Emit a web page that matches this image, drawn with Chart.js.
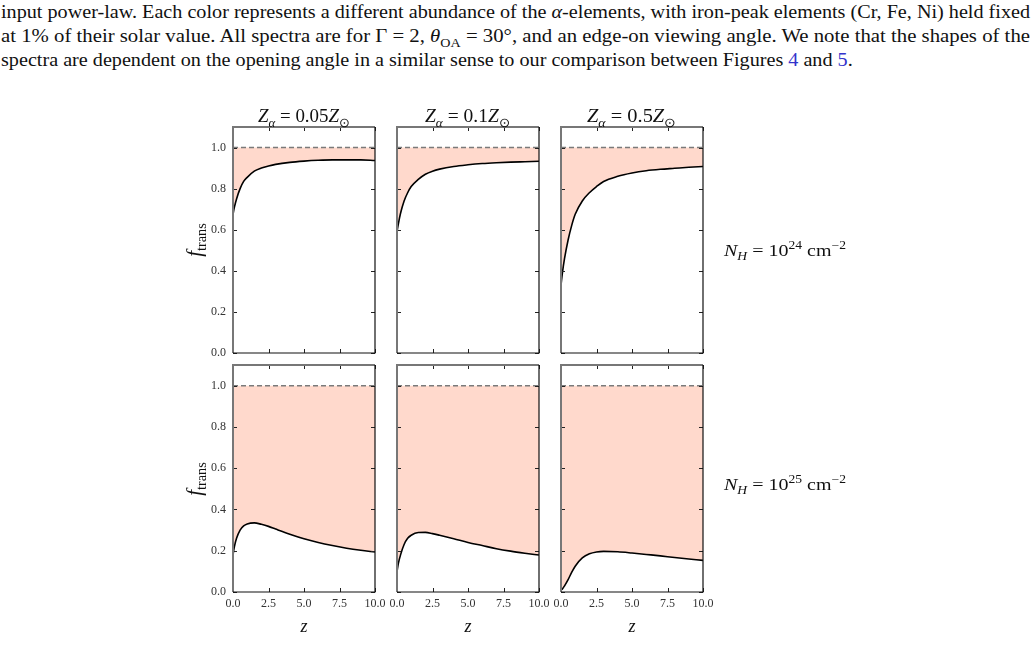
<!DOCTYPE html>
<html>
<head>
<meta charset="utf-8">
<script src="https://cdn.jsdelivr.net/npm/chart.js@4.4.1/dist/chart.umd.min.js"></script>
<style>
body{margin:0;background:#fff;}
#page{position:relative;width:1035px;height:657px;overflow:hidden;font-family:"Liberation Serif",serif;color:#111;background:#fff;}
.fit{position:absolute;white-space:nowrap;transform-origin:0 50%;}
.para{font-size:19px;line-height:24px;}
.ttl{font-size:19px;line-height:22px;}
.row{font-size:17px;line-height:22px;}
.ylab{position:absolute;font-size:21px;white-space:nowrap;transform:translate(-50%,-50%) rotate(-90deg);}
.xlab{position:absolute;font-size:18px;font-style:italic;transform:translateX(-50%);}
sub,sup{font-size:68%;line-height:0;}
canvas{position:absolute;}
a{color:#33c;text-decoration:none;}
</style>
</head>
<body>
<div id="page">
  <div class="fit para" id="p1" style="left:1px;top:0px">input power-law. Each color represents a different abundance of the <i>α</i>-elements, with iron-peak elements (Cr, Fe, Ni) held fixed</div>
  <div class="fit para" id="p2" style="left:1px;top:24px">at 1% of their solar value. All spectra are for Γ = 2, <i>θ</i><sub>OA</sub> = 30°, and an edge-on viewing angle. We note that the shapes of the</div>
  <div class="fit para" id="p3" style="left:1px;top:48px">spectra are dependent on the opening angle in a similar sense to our comparison between Figures <a>4</a> and <a>5</a>.</div>
</div>
<script>
// redshift grid shared by every curve
const zGrid = [0, 0.1, 0.25, 0.5, 0.75, 1, 1.5, 2, 2.5, 3, 4, 5, 6, 7, 8, 9, 10];

// N_H = 1e24
const trans24_005 = [0.675, 0.71, 0.75, 0.80, 0.835, 0.855, 0.885, 0.90, 0.91, 0.918, 0.928, 0.934, 0.938, 0.94, 0.94, 0.94, 0.937];
const trans24_01  = [0.59, 0.63, 0.68, 0.74, 0.78, 0.81, 0.845, 0.87, 0.885, 0.895, 0.908, 0.916, 0.922, 0.926, 0.929, 0.931, 0.933];
const trans24_05  = [0.33, 0.39, 0.46, 0.55, 0.62, 0.675, 0.74, 0.78, 0.81, 0.835, 0.86, 0.876, 0.887, 0.894, 0.899, 0.904, 0.908];
// N_H = 1e25
const trans25_005 = [0.18, 0.22, 0.26, 0.30, 0.32, 0.33, 0.335, 0.328, 0.318, 0.305, 0.28, 0.258, 0.24, 0.225, 0.212, 0.202, 0.194];
const trans25_01  = [0.10, 0.14, 0.18, 0.23, 0.26, 0.275, 0.288, 0.289, 0.283, 0.275, 0.258, 0.24, 0.225, 0.21, 0.198, 0.188, 0.179];
const trans25_05  = [0.01, 0.015, 0.03, 0.06, 0.095, 0.125, 0.165, 0.185, 0.194, 0.197, 0.195, 0.189, 0.182, 0.175, 0.167, 0.16, 0.153];

const curves = [[trans24_005, trans24_01, trans24_05], [trans25_005, trans25_01, trans25_05]];
const unabsorbed = 1.0;

const colTitles = ['0.05', '0.1', '0.5'];
const rowExps = ['24', '25'];
const xTicks = [0, 2.5, 5, 7.5, 10];

// layout
const panelLefts = [233, 397, 561];
const rowTops = [127, 365];
const rowHeights = [226, 227];
const plotW = 142;
const padL = 40, padT = 4, padR = 20, padB = 24;

const page = document.getElementById('page');

function fitWidth(el, w) {
  const nat = el.getBoundingClientRect().width;
  el.style.transform = 'scaleX(' + (w / nat) + ')';
  return w / nat;
}

const paraScale = fitWidth(document.getElementById('p1'), 1029);
fitWidth(document.getElementById('p2'), 1029);
document.getElementById('p3').style.transform = 'scaleX(' + paraScale + ')';

const framePlugin = {
  id: 'frame',
  afterDatasetsDraw(chart) {
    const ctx = chart.ctx, a = chart.chartArea, x = chart.scales.x, y = chart.scales.y;
    ctx.save();
    ctx.strokeStyle = '#222';
    ctx.lineWidth = 1;
    ctx.beginPath();
    x.ticks.forEach(t => {
      const px = Math.round(x.getPixelForValue(t.value)) + 0.5;
      ctx.moveTo(px, a.bottom); ctx.lineTo(px, a.bottom - 4);
      ctx.moveTo(px, a.top); ctx.lineTo(px, a.top + 4);
    });
    y.ticks.forEach(t => {
      const py = Math.round(y.getPixelForValue(t.value)) + 0.5;
      ctx.moveTo(a.left, py); ctx.lineTo(a.left + 4, py);
      ctx.moveTo(a.right, py); ctx.lineTo(a.right - 4, py);
    });
    ctx.stroke();
    // spines
    ctx.strokeStyle = '#777';
    ctx.lineWidth = 2;
    ctx.beginPath();
    ctx.moveTo(a.left, a.bottom); ctx.lineTo(a.left, a.top); ctx.lineTo(a.right, a.top);
    ctx.stroke();
    ctx.strokeStyle = '#111';
    ctx.lineWidth = 1.2;
    ctx.beginPath();
    ctx.moveTo(a.left, a.bottom); ctx.lineTo(a.right, a.bottom); ctx.lineTo(a.right, a.top);
    ctx.stroke();
    ctx.restore();
  }
};

for (let r = 0; r < 2; r++) {
  for (let c = 0; c < 3; c++) {
    const cv = document.createElement('canvas');
    cv.width = padL + plotW + padR;
    cv.height = padT + rowHeights[r] + padB;
    cv.style.left = (panelLefts[c] - padL) + 'px';
    cv.style.top = (rowTops[r] - padT) + 'px';
    page.appendChild(cv);

    const vals = curves[r][c];
    new Chart(cv, {
      type: 'line',
      data: {
        datasets: [
          {
            data: [{x: 0, y: unabsorbed}, {x: 10, y: unabsorbed}],
            borderColor: '#7a7a7a', borderWidth: 1.5, borderDash: [5, 3],
            pointRadius: 0, fill: false
          },
          {
            data: zGrid.map((z, i) => ({x: z, y: vals[i]})),
            borderColor: '#000', borderWidth: 1.6, pointRadius: 0,
            cubicInterpolationMode: 'monotone',
            fill: {value: unabsorbed}, backgroundColor: 'rgb(255,217,204)'
          }
        ]
      },
      options: {
        responsive: false, animation: false, events: [],
        layout: {padding: {left: 0, top: padT, right: padR, bottom: 0}},
        plugins: {legend: {display: false}, tooltip: {enabled: false}, title: {display: false}},
        scales: {
          x: {
            type: 'linear', min: 0, max: 10,
            grid: {display: false, drawTicks: false, tickLength: 0}, border: {display: false},
            afterBuildTicks: s => { s.ticks = xTicks.map(v => ({value: v})); },
            ticks: {
              display: r === 1, autoSkip: false, maxRotation: 0, padding: 5,
              callback: v => v.toFixed(1),
              font: {family: 'Liberation Serif', size: 12}, color: '#333'
            },
            afterFit: s => { s.height = padB; s.paddingLeft = 0; s.paddingRight = 0; }
          },
          y: {
            type: 'linear', min: 0, max: 1.1,
            grid: {display: false, drawTicks: false, tickLength: 0}, border: {display: false},
            ticks: {
              display: c === 0, stepSize: 0.2, includeBounds: false, padding: 7,
              callback: v => v.toFixed(1),
              font: {family: 'Liberation Serif', size: 12}, color: '#333'
            },
            afterFit: s => { s.width = padL; s.paddingTop = 0; s.paddingBottom = 0; }
          }
        }
      },
      plugins: [framePlugin]
    });
  }
}

// column titles
const titleSpans = [[258, 92], [425, 85], [587, 89]];
colTitles.forEach((v, c) => {
  const d = document.createElement('div');
  d.className = 'fit ttl';
  d.style.left = titleSpans[c][0] + 'px';
  d.style.top = '105px';
  d.innerHTML = '<i>Z</i><sub><i>α</i></sub> = ' + v + '<i>Z</i><sub>⊙</sub>';
  page.appendChild(d);
  fitWidth(d, titleSpans[c][1]);
});

// row labels
const rowCenters = [251, 485];
rowExps.forEach((e, r) => {
  const d = document.createElement('div');
  d.className = 'fit row';
  d.style.left = '724px';
  d.style.top = (rowCenters[r] - 11) + 'px';
  d.innerHTML = '<i>N</i><sub><i>H</i></sub> = 10<sup>' + e + '</sup> cm<sup>−2</sup>';
  page.appendChild(d);
  fitWidth(d, 122);
});

// y labels
rowTops.forEach((t, r) => {
  const d = document.createElement('div');
  d.className = 'ylab';
  d.style.left = '194px';
  d.style.top = (t + rowHeights[r] / 2) + 'px';
  d.innerHTML = '<i>f</i><sub>trans</sub>';
  page.appendChild(d);
});

// x labels
panelLefts.forEach(l => {
  const d = document.createElement('div');
  d.className = 'xlab';
  d.style.left = (l + plotW / 2) + 'px';
  d.style.top = '616px';
  d.textContent = 'z';
  page.appendChild(d);
});
</script>
</body>
</html>
